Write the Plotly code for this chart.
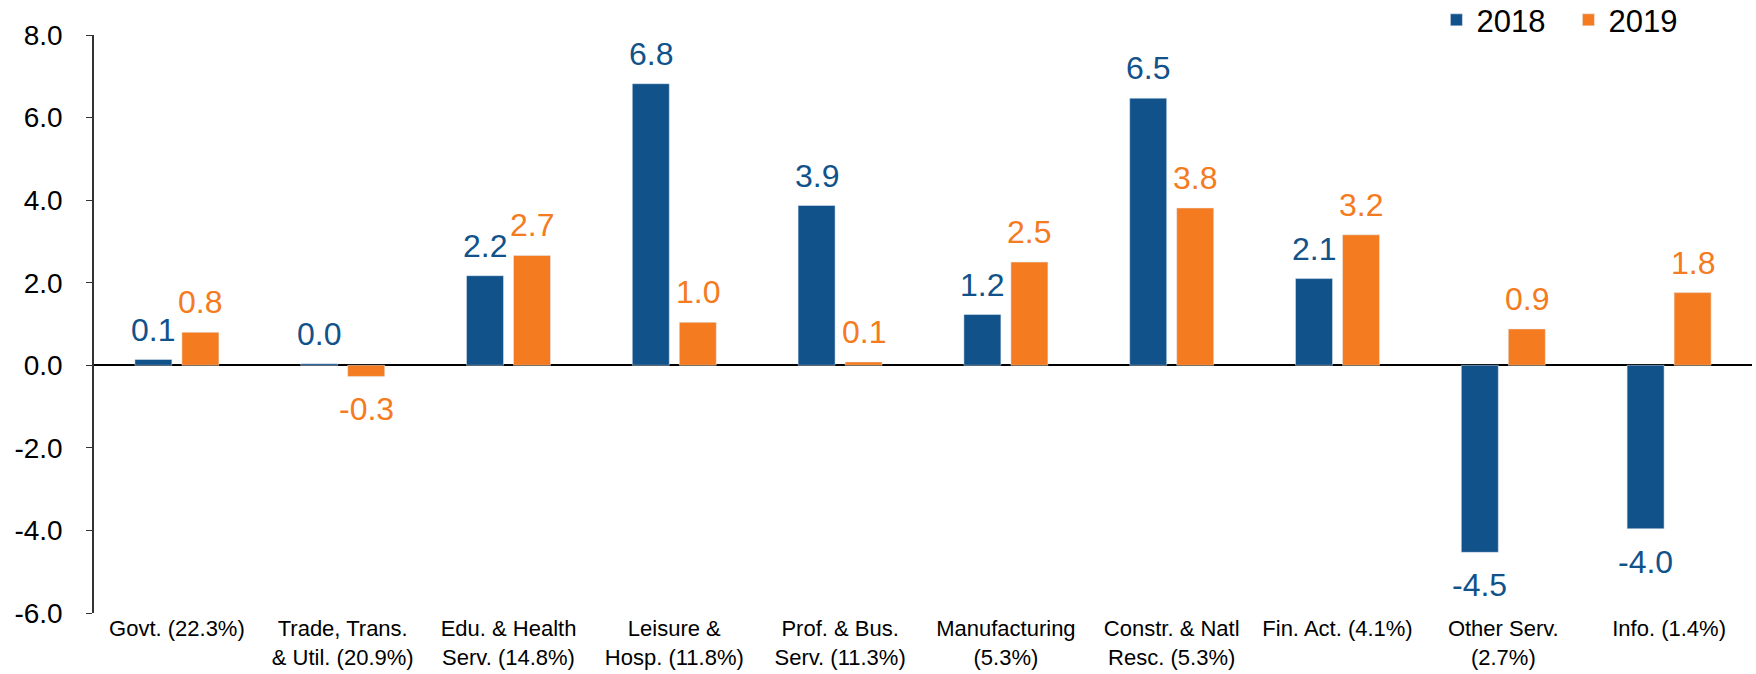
import plotly.graph_objects as go

categories = [
    "Govt. (22.3%)",
    "Trade, Trans.<br>& Util. (20.9%)",
    "Edu. & Health<br>Serv. (14.8%)",
    "Leisure &<br>Hosp. (11.8%)",
    "Prof. & Bus.<br>Serv. (11.3%)",
    "Manufacturing<br>(5.3%)",
    "Constr. & Natl<br>Resc. (5.3%)",
    "Fin. Act. (4.1%)",
    "Other Serv.<br>(2.7%)",
    "Info. (1.4%)",
]
vals_2018 = [0.14, 0.04, 2.17, 6.82, 3.87, 1.23, 6.47, 2.10, -4.53, -3.96]
vals_2019 = [0.80, -0.27, 2.66, 1.04, 0.08, 2.50, 3.81, 3.16, 0.88, 1.76]

y_ticks = [-6, -4, -2, 0, 2, 4, 6, 8]
y_tick_labels = ["-6.0", "-4.0", "-2.0", "0.0", "2.0", "4.0", "6.0", "8.0"]

blue = "#12528A"
orange = "#F47B20"
font = "Arial, Liberation Sans, sans-serif"

fig = go.Figure()
fig.add_trace(go.Bar(name="2018", x=categories, y=vals_2018, marker_color=blue))
fig.add_trace(go.Bar(name="2019", x=categories, y=vals_2019, marker_color=orange))

# value labels, pushed a bit further from the bars than plotly's own outside text
for vals, color, shift in [(vals_2018, blue, -23.5), (vals_2019, orange, 23.5)]:
    for cat, v in zip(categories, vals):
        fig.add_annotation(
            x=cat, y=v, text=f"{v:.1f}", showarrow=False,
            xshift=shift,
            yshift=30 if v >= 0 else -33,
            yanchor="middle",
            font=dict(size=32, color=color, family=font),
        )

fig.update_layout(
    width=1756,
    height=674,
    margin=dict(l=94, r=4, t=35, b=61, autoexpand=False),
    paper_bgcolor="white",
    plot_bgcolor="white",
    barmode="group",
    bargap=0.433,
    bargroupgap=0.213,
    font=dict(family=font, color="black"),
    showlegend=True,
    legend=dict(
        orientation="h",
        xref="container", yref="container",
        x=0.818, y=0.97,
        xanchor="left", yanchor="middle",
        font=dict(size=31),
        entrywidth=87, entrywidthmode="pixels",
        bgcolor="rgba(0,0,0,0)",
    ),
    xaxis=dict(
        type="category",
        automargin=False,
        showline=False,
        showgrid=False,
        ticks="",
        tickfont=dict(size=22),
    ),
    # ticks on the zero line, at category boundaries
    xaxis2=dict(
        overlaying="x",
        anchor="free",
        position=6 / 14,
        automargin=False,
        range=[-0.5, 9.5],
        tickvals=[i - 0.5 for i in range(11)],
        ticks="outside",
        ticklen=7,
        tickcolor="black",
        showticklabels=False,
        showline=False,
        showgrid=False,
        zeroline=False,
    ),
    yaxis=dict(
        range=[-6, 8],
        tickvals=y_ticks,
        ticktext=y_tick_labels,
        automargin=False,
        showline=True,
        linecolor="#333333",
        linewidth=1.5,
        ticks="outside",
        ticklen=6,
        tickcolor="#333333",
        tickfont=dict(size=28),
        ticklabelstandoff=18,
        showgrid=False,
        zeroline=True,
        zerolinecolor="black",
        zerolinewidth=1.5,
    ),
)

# the page's default body margin would shift the whole chart by 8px
fig.write_html(
    "out.html",
    config={"displayModeBar": False},
    post_script="document.body.style.margin='0';",
)
